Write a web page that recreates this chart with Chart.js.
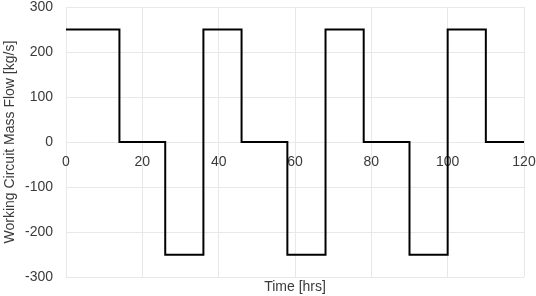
<!DOCTYPE html>
<html>
<head>
<meta charset="utf-8">
<script src="https://cdn.jsdelivr.net/npm/chart.js@4/dist/chart.umd.min.js"></script>
<style>
  html, body { margin: 0; padding: 0; background: #ffffff; }
  #wrap { width: 536px; height: 296px; position: relative; }
</style>
</head>
<body>
<div id="wrap"><canvas id="c"></canvas></div>
<script>
// Step change times [hrs] and mass flow [kg/s] held from each time until the next
const timeHrs = [0, 14, 26, 36, 46, 58, 68, 78, 90, 100, 110, 120];
const massFlow = [250, 0, -250, 250, 0, -250, 250, 0, -250, 250, 0, 0];
const xTicks = [0, 20, 40, 60, 80, 100, 120];
const yTicks = [-300, -200, -100, 0, 100, 200, 300];

const points = timeHrs.map((t, i) => ({ x: t, y: massFlow[i] }));
const fontFamily = "'Liberation Sans', Arial, Helvetica, sans-serif";
const textColor = '#3a3a3a';
const gridColor = '#e8e8e8';
const fontSize = 14;

new Chart(document.getElementById('c'), {
  type: 'line',
  data: {
    datasets: [{
      data: points,
      stepped: 'before',
      borderColor: '#000000',
      borderWidth: 2,
      pointRadius: 0,
      fill: false
    }]
  },
  options: {
    responsive: true,
    maintainAspectRatio: false,
    animation: false,
    layout: { padding: { top: 1, right: 12, left: 0, bottom: 0 } },
    plugins: { legend: { display: false }, tooltip: { enabled: false } },
    scales: {
      x: {
        type: 'linear',
        position: { y: 0 },
        min: xTicks[0],
        max: xTicks[xTicks.length - 1],
        afterBuildTicks: s => { s.ticks = xTicks.map(v => ({ value: v })); },
        afterFit: s => { s.height = 0; s.paddingLeft = 0; s.paddingRight = 0; s.paddingTop = 0; s.paddingBottom = 0; },
        grid: { color: gridColor, drawTicks: false, lineWidth: 1 },
        border: { display: false },
        ticks: { color: textColor, font: { family: fontFamily, size: fontSize }, padding: 12, maxRotation: 0 }
      },
      x2: {
        type: 'linear',
        position: 'bottom',
        grid: { display: false, drawTicks: false },
        border: { display: false },
        ticks: { display: false },
        afterFit: s => { s.paddingLeft = 0; s.paddingRight = 0; },
        title: { display: true, text: 'Time [hrs]', color: textColor, font: { family: fontFamily, size: fontSize }, padding: { top: 2, bottom: 0 } }
      },
      y: {
        type: 'linear',
        min: yTicks[0],
        max: yTicks[yTicks.length - 1],
        afterBuildTicks: s => { s.ticks = yTicks.map(v => ({ value: v })); },
        afterFit: s => { s.width = 66; s.paddingTop = 7; s.paddingBottom = 0; },
        grid: { color: gridColor, drawTicks: false, lineWidth: 1 },
        border: { display: false },
        ticks: { color: textColor, font: { family: fontFamily, size: fontSize }, padding: 13 },
        title: { display: true, text: 'Working Circuit Mass Flow [kg/s]', color: textColor, font: { family: fontFamily, size: fontSize }, padding: { top: 2, bottom: 5 } }
      }
    }
  }
});
</script>
</body>
</html>
